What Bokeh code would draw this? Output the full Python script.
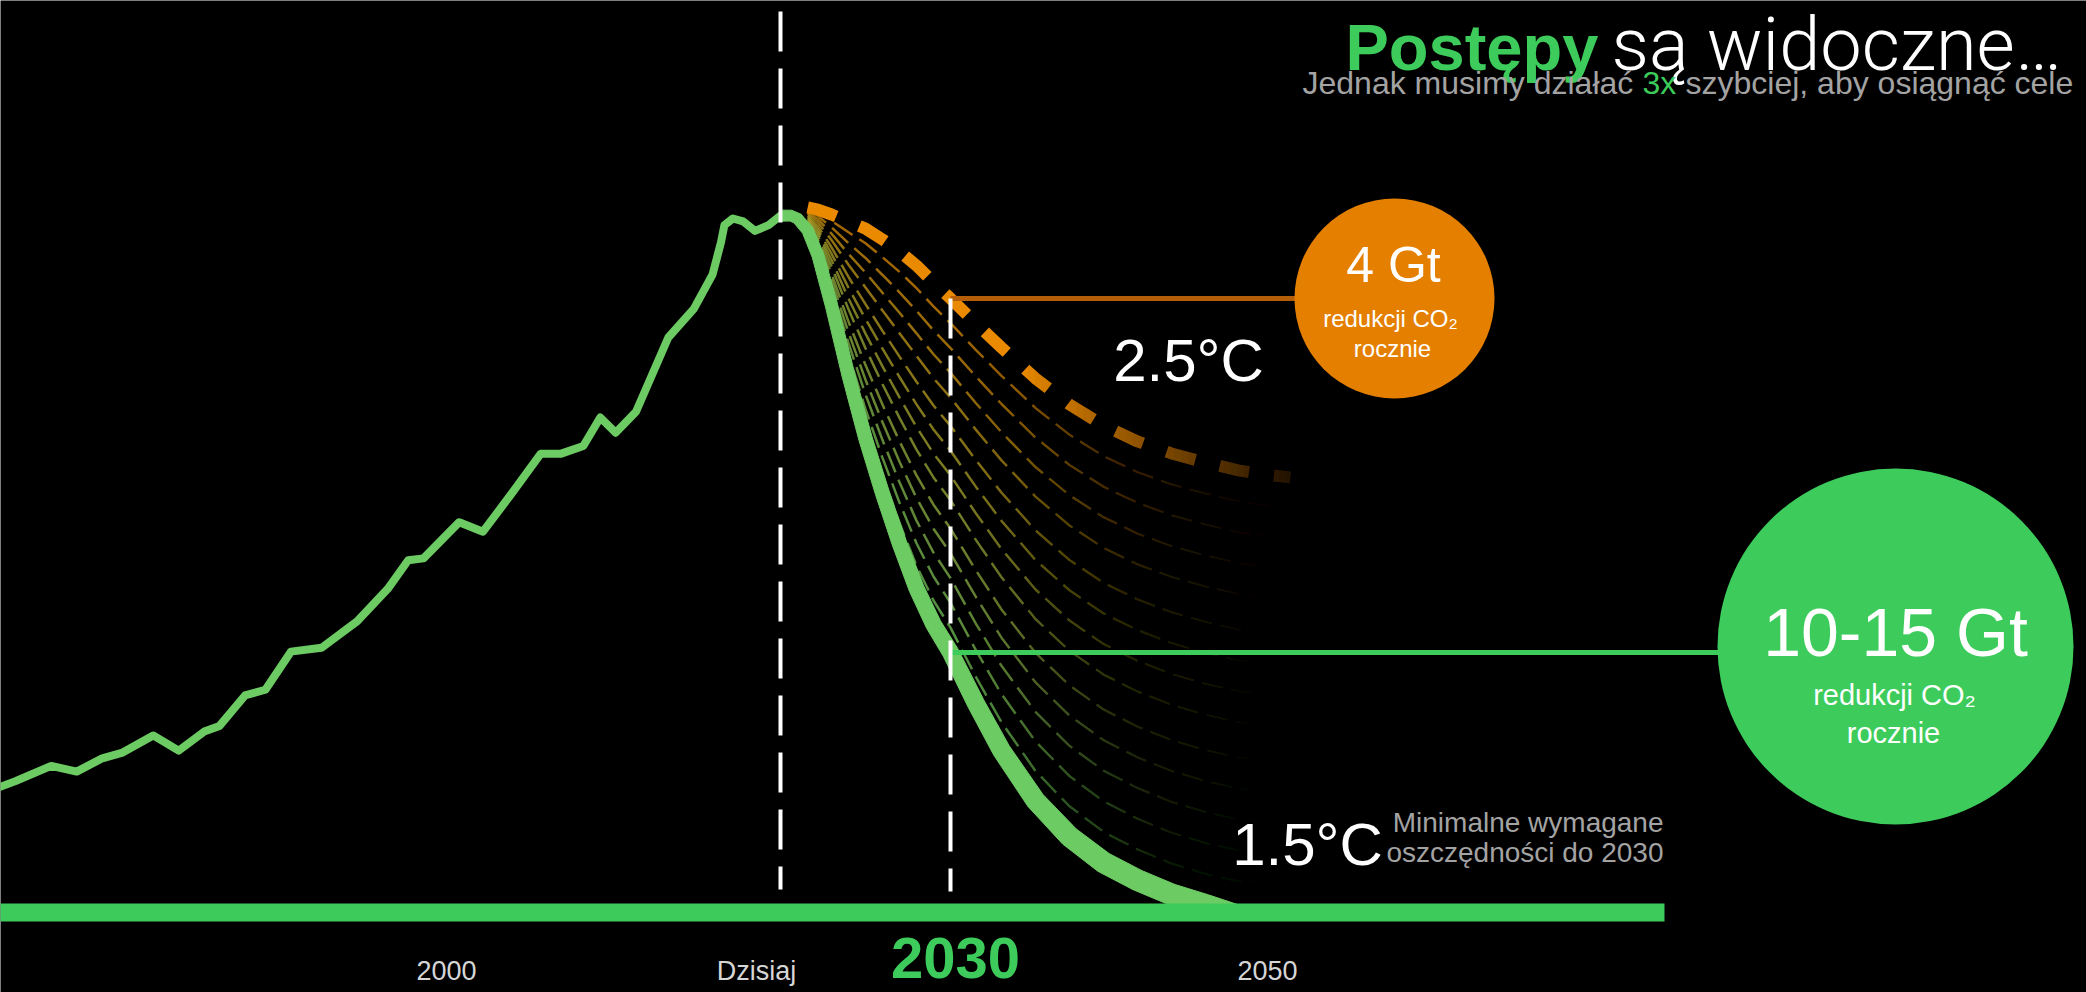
import numpy as np
from bokeh.plotting import figure
from bokeh.models import Label
from bokeh.embed import file_html
from bokeh.resources import INLINE

# ---------------- data ----------------
# historical emissions curve (year, Gt CO2)
hist_years = [1973.5, 1974.1, 1975.0, 1977.1, 1978.6, 1980.1, 1981.3, 1983.1, 1984.6, 1986.1,
              1987.0, 1988.5, 1989.7, 1991.2, 1993.0, 1995.1, 1996.9, 1998.1, 1999.0, 2001.1,
              2002.5, 2004.1, 2005.9, 2007.1, 2008.4, 2009.4, 2010.3, 2011.5, 2013.4, 2014.9,
              2016.0, 2016.5, 2016.7, 2017.2, 2017.8, 2018.5, 2019.3, 2020.0]
hist_gt = [6.4, 6.6, 6.9, 7.7, 7.4, 8.1, 8.4, 9.3, 8.5, 9.5,
           9.8, 11.4, 11.7, 13.7, 13.9, 15.3, 17.0, 18.5, 18.6, 20.5,
           20.0, 21.9, 24.1, 24.1, 24.5, 26.0, 25.2, 26.3, 30.2, 31.7,
           33.5, 35.2, 36.1, 36.45, 36.3, 35.8, 36.1, 36.6]

# start of the 1.5 C pathway (before the fan begins)
start_years = [2020.0, 2020.6, 2021.0]
start_gt = [36.6, 36.6, 36.45]

# common grid for the pathways
path_years = [2021.6, 2022.2, 2023.0, 2024.0, 2025.0, 2026.0, 2027.0, 2028.0, 2029.0, 2030.0,
              2031.5, 2033.0, 2035.0, 2037.0, 2039.0, 2041.0, 2043.0, 2045.0, 2047.0, 2049.0, 2050.0]
path_15 = [35.82, 34.51, 31.88, 28.20, 24.89, 22.01, 19.38, 17.02, 15.13, 13.66,
           10.97, 8.51, 5.88, 3.99, 2.63, 1.70, 0.95, 0.40, 0.0, 0.0, 0.0]
path_25 = [37.03, 36.92, 36.66, 36.29, 35.92, 35.35, 34.72, 33.98, 33.09, 32.25,
           30.94, 29.67, 28.05, 26.68, 25.58, 24.74, 24.11, 23.63, 23.21, 22.95, 22.85]

# intermediate pathways: position between 1.5 C (0) and 2.5 C (1)
fan_weights = [0.07, 0.14, 0.21, 0.28, 0.35, 0.43, 0.50, 0.57, 0.64, 0.72, 0.79, 0.86, 0.93]

tick_years = [2000, 2020, 2050]
tick_labels = ["2000", "Dzisiaj", "2050"]
today_year = 2020
target_year = 2030
target_label = "2030"
bar_end_year = 2072.0

# ---------------- canvas mapping ----------------
W, H = 2086, 992
PX_PER_YEAR = 17.0
PX_PER_GT = 19.04
BASE_PX = 912
X0 = today_year - 780 / PX_PER_YEAR
X1 = X0 + W / PX_PER_YEAR
Y0 = -(H - BASE_PX) / PX_PER_GT
Y1 = BASE_PX / PX_PER_GT


def dx(px):
    return X0 + px / PX_PER_YEAR


def dy(py):
    return Y0 + (H - py) / PX_PER_GT


C_LIGHT = "#6DCB63"
C_GREEN = "#3DCC5B"
C_ORANGE = "#E47F00"
C_ORANGE_DASH = "#EA8A00"
C_ORANGE_LINK = "#B55E08"
C_GRAY = "#A3A3A3"
C_TICK = "#D6D6D6"
FONT = "Liberation Sans"
LIGHT = "Roboto Light"

p = figure(width=W, height=H, x_range=(X0, X1), y_range=(Y0, Y1),
           output_backend="svg", toolbar_location=None,
           x_axis_location=None, y_axis_location=None,
           background_fill_color="black", border_fill_color="black",
           min_border=0, outline_line_color=None)
p.grid.visible = False

# historical curve
p.line(hist_years, hist_gt, line_color=C_LIGHT, line_width=8,
       line_join="round", line_cap="round")

# fan of intermediate pathways
g_arr = np.array(path_15)
o_arr = np.array(path_25)
green_rgb = np.array([109, 203, 99])
orange_rgb = np.array([233, 139, 0])
fan_ys, fan_cols = [], []
for w in fan_weights:
    fan_ys.append(list(g_arr + w * (o_arr - g_arr)))
    c = (1 - w) * green_rgb + w * orange_rgb
    fan_cols.append("#%02x%02x%02x" % tuple(int(v) for v in c))
p.multi_line(xs=[path_years] * len(fan_weights), ys=fan_ys, line_color=fan_cols,
             line_width=2.5, line_alpha=0.72, line_dash="22 8")


def fade(x_from, x_to, max_alpha, steps=40):
    edges = np.linspace(x_from, x_to, steps + 1)
    t_prev = 1.0
    lefts, alphas = [], []
    for i in range(steps):
        t = 1 - max_alpha * (i + 1) / steps
        alphas.append(1 - t / t_prev)
        t_prev = t
        lefts.append(dx(edges[i]))
    p.quad(left=lefts, right=[dx(1330)] * steps, top=[dy(150)] * steps,
           bottom=[dy(925)] * steps, fill_color="black", fill_alpha=alphas,
           line_color=None)


fade(960, 1300, 0.75)

# 2.5 C pathway
p.line(path_years, path_25, line_color=C_ORANGE_DASH, line_width=12, line_dash="30 25")
fade(1020, 1300, 0.85)

# 1.5 C pathway: thick band that widens towards the bottom, ends where it reaches zero
k_end = len(start_years) + path_15.index(0.0) + 1
gx = np.array(start_years + path_years)[:k_end]
gy = np.array(start_gt + path_15)[:k_end]
sx = (gx - X0) * PX_PER_YEAR
sy = (gy - Y0) * PX_PER_GT
tx, ty = np.gradient(sx), np.gradient(sy)
nn = np.hypot(tx, ty)
nx, ny = -ty / nn, tx / nn
wid = np.clip(11 + (sx - 790) * (10 / 300), 11, 21)
wid[-1] = 14
bx = np.concatenate([sx + nx * wid / 2, (sx - nx * wid / 2)[::-1]]) / PX_PER_YEAR + X0
by = np.concatenate([sy + ny * wid / 2, (sy - ny * wid / 2)[::-1]]) / PX_PER_GT + Y0
p.patch(bx, by, fill_color=C_LIGHT, line_color=C_LIGHT, line_width=1)

# base bar
p.line([X0 - 1, bar_end_year], [0, 0], line_color=C_GREEN, line_width=18)

# connectors & circles
i30 = path_years.index(float(target_year))
o30 = path_25[i30]
g30 = path_15[i30]
p.line([target_year, dx(1296)], [o30, o30], line_color=C_ORANGE_LINK, line_width=5)
p.line([target_year, dx(1720)], [g30, g30], line_color=C_GREEN, line_width=5)
p.scatter([dx(1394)], [o30], marker="circle", size=200, fill_color=C_ORANGE, line_color=None)
p.scatter([dx(1895)], [dy(646)], marker="circle", size=356, fill_color=C_GREEN, line_color=None)

# white dashed markers
p.line([today_year, today_year], [dy(11), dy(889)], line_color="white", line_width=4,
       line_dash="40 17")
p.line([target_year, target_year], [o30, dy(891)], line_color="white", line_width=4,
       line_dash="40 17")

SHIFT = 0.37  # baseline correction (fraction of font size)


def lab(text, x, y, size, color, align="left", font=FONT, style="normal"):
    p.add_layout(Label(x=x, y=H - (y - SHIFT * size), x_units="screen", y_units="screen",
                       text=text, text_font=font, text_font_size=f"{size}px",
                       text_font_style=style, text_color=color, text_align=align,
                       text_baseline="alphabetic"))


# title
lab("Postępy", 1345, 71, 65, C_GREEN, style="bold")
lab("są widoczne…", 1611, 71, 74, "white", font=LIGHT)
lab("Jednak musimy działać", 1302, 94, 32, C_GRAY)
lab("3x", 1642, 94, 32, C_GREEN)
lab("szybciej, aby osiągnąć cele", 1685, 94, 32, C_GRAY)

# scenario labels
lab("2.5°C", 1188, 382, 60, "white", "center")
lab("1.5°C", 1307, 866, 60, "white", "center")
lab("Minimalne wymagane", 1663, 832, 28, C_GRAY, "right")
lab("oszczędności do 2030", 1663, 862, 28, C_GRAY, "right")

# circle texts
lab("4 Gt", 1393, 283, 50, "white", "center")
lab("redukcji CO₂", 1390, 327, 24, "white", "center")
lab("rocznie", 1392, 357, 24, "white", "center")
lab("10-15 Gt", 1895, 657, 68, "white", "center")
lab("redukcji CO₂", 1894, 705, 29, "white", "center")
lab("rocznie", 1893, 743, 29, "white", "center")

# x tick labels
tick_offsets = [6, -24, -23]
for yr, t, off in zip(tick_years, tick_labels, tick_offsets):
    p.add_layout(Label(x=yr, y=H - (980 - SHIFT * 27), x_units="data", y_units="screen",
                       x_offset=off, text=t, text_font=FONT, text_font_size="27px",
                       text_color=C_TICK, text_align="center", text_baseline="alphabetic"))
p.add_layout(Label(x=target_year, y=H - (979 - SHIFT * 58), x_units="data", y_units="screen",
                   x_offset=5, text=target_label, text_font=FONT, text_font_size="58px",
                   text_font_style="bold", text_color=C_GREEN, text_align="center",
                   text_baseline="alphabetic"))

open("out.html", "w").write(file_html(p, INLINE))
